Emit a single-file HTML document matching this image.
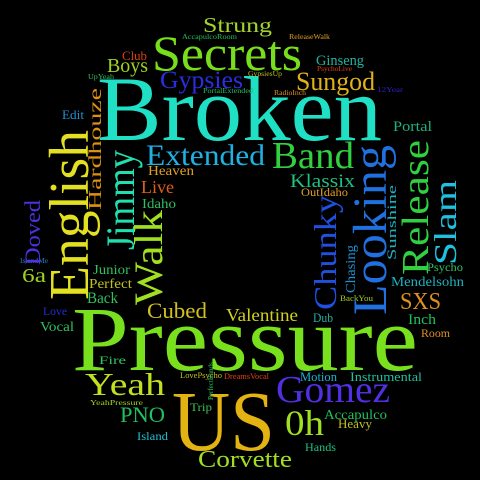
<!DOCTYPE html>
<html><head><meta charset="utf-8"><style>
html,body{margin:0;padding:0;background:#000;width:480px;height:480px;overflow:hidden}
svg text{font-family:"Liberation Serif",serif}
</style></head><body>
<svg id="cloud" width="480" height="480" viewBox="0 0 480 480" xmlns="http://www.w3.org/2000/svg">
<rect width="480" height="480" fill="#000"/>
</svg>
<script>
// [text, x, y(baseline), size, color, length, rotated]
const words = [
["Broken",97,140,92,"#1fdfc5",285,0],
["Pressure",72,370,92,"#78e01c",346,0],
["US",172,450,86,"#e2b312",103,0],
["Secrets",152,70,50,"#78de1c",150,0],
["Strung",203,32,21,"#a2d42a",69,0],
["Gypsies",160,88,25,"#2a2ee2",83,0],
["Sungod",296,90,26,"#e0b21a",79,0],
["Ginseng",316,65,15,"#20b4a0",48,0],
["Extended",146,165,30,"#20b0e2",119,0],
["Band",272,168,38,"#30d040",82,0],
["Klassix",290,187,19,"#20c080",65,0],
["OutIdaho",301,196,12,"#e0a020",47,0],
["Portal",393,131,15,"#20b080",39,0],
["Heaven",148,175,14,"#e0a020",46,0],
["Live",141,193,18,"#e06010",33,0],
["Idaho",142,208,14,"#30c060",34,0],
["Club",122,60,13,"#e04010",25,0],
["Boys",107,72,20,"#a0d020",41,0],
["Edit",62,119,13,"#2090d0",22,0],
["6a",22,282,20,"#a0d020",24,0],
["Junior",93,274,14,"#30c060",37,0],
["Perfect",89,288,14,"#c0c020",43,0],
["Back",87,303,16,"#30c060",31,0],
["Love",43,315,12,"#2030d0",24,0],
["Vocal",40,331,14,"#30c060",34,0],
["Cubed",147,318,22,"#d0c020",60,0],
["Valentine",226,321,18,"#d0d020",72,0],
["Fire",99,364,12,"#30c060",27,0],
["Yeah",85,395,32,"#c0e020",80,0],
["YeahPressure",90,405,7,"#a0d020",53,0],
["PNO",120,422,22,"#20c060",45,0],
["Island",137,440,12,"#20c0d0",31,0],
["Trip",190,411,12,"#40c050",22,0],
["Corvette",198,467,24,"#a0e020",94,0],
["Gomez",276,402,38,"#5030e0",114,0],
["0h",285,435,36,"#a0e020",39,0],
["Accapulco",324,419,14,"#20c060",63,0],
["Heavy",338,428,13,"#c0c020",34,0],
["Hands",305,451,12,"#20c080",31,0],
["Motion",300,381,13,"#20b0d0",37,0],
["Instrumental",350,381,13,"#20c0a0",72,0],
["Dub",313,322,13,"#20b0a0",20,0],
["Inch",408,324,15,"#20c060",28,0],
["Room",421,337,12,"#e09020",29,0],
["SXS",400,309,24,"#e09020",41,0],
["Mendelsohn",391,286,14,"#20b0c0",73,0],
["Psycho",427,271,12,"#30c060",36,0],
["BackYou",340,301,8,"#a0d020",33,0],
["LovePsycho",180,378,8,"#c0c020",42,0],
["DreamsVocal",224,379,8,"#e04010",45,0],
["AccapulcoRoom",182,39,7,"#20c060",55,0],
["ReleaseWalk",289,39,7,"#e0a020",41,0],
["PsychoLive",317,71,7,"#e04010",35,0],
["GypsiesUp",248,76,7,"#c0c020",34,0],
["PortalExtended",203,93,7,"#20c060",50,0],
["RadioInch",274,95,7,"#e09020",32,0],
["12Year",377,92,7,"#3020c0",26,0],
["UpYeah",88,79,7,"#30c060",26,0],
["IslandMe",20,263,7,"#2080c0",28,0],
["PerfectHands",213,400,7,"#30c060",0,1],
["English",88,300,56,"#e2e020",170,1],
["Jimmy",134,250,40,"#20e0b0",100,1],
["Walk",162,305,40,"#a0e020",95,1],
["Doved",40,265,22,"#5030e0",65,1],
["Hardhouze",101,210,18,"#e09010",122,1],
["Slam",456,265,32,"#20c0e0",85,1],
["Release",428,275,38,"#30d040",135,1],
["Looking",386,315,48,"#2070e0",170,1],
["Chunky",336,310,32,"#2050e0",115,1],
["Chasing",355,293,14,"#2090d0",48,1],
["Sunshine",396,260,13,"#20b0c0",75,1]
];
const svg = document.getElementById('cloud');
const NS = 'http://www.w3.org/2000/svg';
for (const w of words) {
  const t = document.createElementNS(NS, 'text');
  
  
  t.setAttribute('font-size', w[3]);
  t.setAttribute('fill', w[4]);
  if (w[5] > 0) { t.setAttribute('textLength', w[5]); t.setAttribute('lengthAdjust', 'spacingAndGlyphs'); }
  if (w[6]) {
    t.setAttribute('transform', 'translate(' + w[1] + ',' + w[2] + ') rotate(-90)');
  } else {
    t.setAttribute('x', w[1]); t.setAttribute('y', w[2]);
  }
  t.textContent = w[0];
  svg.appendChild(t);
}
</script>
</body></html>
